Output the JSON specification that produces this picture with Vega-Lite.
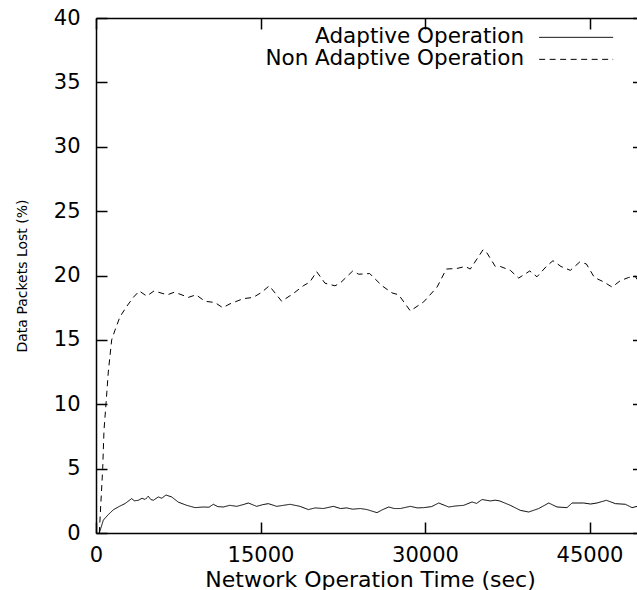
{
  "$schema": "https://vega.github.io/schema/vega-lite/v6.json",
  "width": 541,
  "height": 515,
  "autosize": {"type": "none"},
  "padding": {"left": 96, "top": 18, "right": 0, "bottom": 57},
  "background": "white",
  "config": {
    "view": {"stroke": null},
    "font": "DejaVu Sans",
    "axis": {
      "grid": false,
      "domainColor": "black",
      "domainWidth": 1.5,
      "tickColor": "black",
      "tickWidth": 1.5,
      "labelColor": "black",
      "titleColor": "black",
      "titleFontWeight": "normal",
      "labelFont": "DejaVu Sans",
      "titleFont": "DejaVu Sans"
    }
  },
  "datasets": {
    "loss": [
      {"series": "Adaptive Operation", "t": 300, "loss": 0},
      {"series": "Adaptive Operation", "t": 670, "loss": 1.0},
      {"series": "Adaptive Operation", "t": 1120, "loss": 1.43},
      {"series": "Adaptive Operation", "t": 1580, "loss": 1.8},
      {"series": "Adaptive Operation", "t": 2130, "loss": 2.07},
      {"series": "Adaptive Operation", "t": 2640, "loss": 2.28},
      {"series": "Adaptive Operation", "t": 3250, "loss": 2.67},
      {"series": "Adaptive Operation", "t": 3500, "loss": 2.5},
      {"series": "Adaptive Operation", "t": 3860, "loss": 2.54},
      {"series": "Adaptive Operation", "t": 4200, "loss": 2.7},
      {"series": "Adaptive Operation", "t": 4470, "loss": 2.6},
      {"series": "Adaptive Operation", "t": 4770, "loss": 2.85},
      {"series": "Adaptive Operation", "t": 5000, "loss": 2.6},
      {"series": "Adaptive Operation", "t": 5230, "loss": 2.54},
      {"series": "Adaptive Operation", "t": 5680, "loss": 2.8},
      {"series": "Adaptive Operation", "t": 6000, "loss": 2.7},
      {"series": "Adaptive Operation", "t": 6380, "loss": 2.95},
      {"series": "Adaptive Operation", "t": 6900, "loss": 2.8},
      {"series": "Adaptive Operation", "t": 7500, "loss": 2.4},
      {"series": "Adaptive Operation", "t": 8270, "loss": 2.15},
      {"series": "Adaptive Operation", "t": 9030, "loss": 1.97},
      {"series": "Adaptive Operation", "t": 9790, "loss": 2.02},
      {"series": "Adaptive Operation", "t": 10300, "loss": 2.0},
      {"series": "Adaptive Operation", "t": 10700, "loss": 2.23},
      {"series": "Adaptive Operation", "t": 11100, "loss": 2.05},
      {"series": "Adaptive Operation", "t": 11610, "loss": 2.02},
      {"series": "Adaptive Operation", "t": 12200, "loss": 2.15},
      {"series": "Adaptive Operation", "t": 12830, "loss": 2.07},
      {"series": "Adaptive Operation", "t": 13400, "loss": 2.2},
      {"series": "Adaptive Operation", "t": 13890, "loss": 2.33},
      {"series": "Adaptive Operation", "t": 14650, "loss": 2.07},
      {"series": "Adaptive Operation", "t": 15200, "loss": 2.2},
      {"series": "Adaptive Operation", "t": 15710, "loss": 2.28},
      {"series": "Adaptive Operation", "t": 16480, "loss": 2.07},
      {"series": "Adaptive Operation", "t": 17100, "loss": 2.15},
      {"series": "Adaptive Operation", "t": 17690, "loss": 2.23},
      {"series": "Adaptive Operation", "t": 18600, "loss": 2.07},
      {"series": "Adaptive Operation", "t": 19360, "loss": 1.82},
      {"series": "Adaptive Operation", "t": 20000, "loss": 1.95},
      {"series": "Adaptive Operation", "t": 20730, "loss": 1.9},
      {"series": "Adaptive Operation", "t": 21640, "loss": 2.07},
      {"series": "Adaptive Operation", "t": 22300, "loss": 1.9},
      {"series": "Adaptive Operation", "t": 22860, "loss": 1.95},
      {"series": "Adaptive Operation", "t": 23400, "loss": 1.85},
      {"series": "Adaptive Operation", "t": 24100, "loss": 1.9},
      {"series": "Adaptive Operation", "t": 24710, "loss": 1.82},
      {"series": "Adaptive Operation", "t": 25620, "loss": 1.58},
      {"series": "Adaptive Operation", "t": 26100, "loss": 1.8},
      {"series": "Adaptive Operation", "t": 26690, "loss": 2.02},
      {"series": "Adaptive Operation", "t": 27200, "loss": 1.9},
      {"series": "Adaptive Operation", "t": 27750, "loss": 1.9},
      {"series": "Adaptive Operation", "t": 28660, "loss": 2.07},
      {"series": "Adaptive Operation", "t": 29300, "loss": 1.95},
      {"series": "Adaptive Operation", "t": 29880, "loss": 1.97},
      {"series": "Adaptive Operation", "t": 30600, "loss": 2.05},
      {"series": "Adaptive Operation", "t": 31250, "loss": 2.33},
      {"series": "Adaptive Operation", "t": 32160, "loss": 2.02},
      {"series": "Adaptive Operation", "t": 32800, "loss": 2.1},
      {"series": "Adaptive Operation", "t": 33530, "loss": 2.15},
      {"series": "Adaptive Operation", "t": 34290, "loss": 2.41},
      {"series": "Adaptive Operation", "t": 34700, "loss": 2.3},
      {"series": "Adaptive Operation", "t": 35200, "loss": 2.6},
      {"series": "Adaptive Operation", "t": 35960, "loss": 2.49},
      {"series": "Adaptive Operation", "t": 36400, "loss": 2.55},
      {"series": "Adaptive Operation", "t": 36810, "loss": 2.49},
      {"series": "Adaptive Operation", "t": 37780, "loss": 2.15},
      {"series": "Adaptive Operation", "t": 38690, "loss": 1.76},
      {"series": "Adaptive Operation", "t": 39450, "loss": 1.63},
      {"series": "Adaptive Operation", "t": 40370, "loss": 1.9},
      {"series": "Adaptive Operation", "t": 41280, "loss": 2.33},
      {"series": "Adaptive Operation", "t": 42040, "loss": 2.02},
      {"series": "Adaptive Operation", "t": 42950, "loss": 1.97},
      {"series": "Adaptive Operation", "t": 43410, "loss": 2.33},
      {"series": "Adaptive Operation", "t": 44470, "loss": 2.33},
      {"series": "Adaptive Operation", "t": 45100, "loss": 2.25},
      {"series": "Adaptive Operation", "t": 45680, "loss": 2.33},
      {"series": "Adaptive Operation", "t": 46540, "loss": 2.54},
      {"series": "Adaptive Operation", "t": 47360, "loss": 2.28},
      {"series": "Adaptive Operation", "t": 48270, "loss": 2.23},
      {"series": "Adaptive Operation", "t": 48880, "loss": 1.97},
      {"series": "Adaptive Operation", "t": 49330, "loss": 2.07},
      {"series": "Non Adaptive Operation", "t": 300, "loss": 0},
      {"series": "Non Adaptive Operation", "t": 610, "loss": 5},
      {"series": "Non Adaptive Operation", "t": 730, "loss": 8},
      {"series": "Non Adaptive Operation", "t": 910, "loss": 10},
      {"series": "Non Adaptive Operation", "t": 1120, "loss": 12.5},
      {"series": "Non Adaptive Operation", "t": 1430, "loss": 15},
      {"series": "Non Adaptive Operation", "t": 1730, "loss": 15.75},
      {"series": "Non Adaptive Operation", "t": 2190, "loss": 16.8},
      {"series": "Non Adaptive Operation", "t": 2800, "loss": 17.6},
      {"series": "Non Adaptive Operation", "t": 3400, "loss": 18.3},
      {"series": "Non Adaptive Operation", "t": 3950, "loss": 18.8},
      {"series": "Non Adaptive Operation", "t": 4620, "loss": 18.4},
      {"series": "Non Adaptive Operation", "t": 5290, "loss": 18.8},
      {"series": "Non Adaptive Operation", "t": 6500, "loss": 18.5},
      {"series": "Non Adaptive Operation", "t": 7140, "loss": 18.7},
      {"series": "Non Adaptive Operation", "t": 7660, "loss": 18.55},
      {"series": "Non Adaptive Operation", "t": 8420, "loss": 18.3},
      {"series": "Non Adaptive Operation", "t": 9120, "loss": 18.5},
      {"series": "Non Adaptive Operation", "t": 9940, "loss": 18.0},
      {"series": "Non Adaptive Operation", "t": 10850, "loss": 17.9},
      {"series": "Non Adaptive Operation", "t": 11550, "loss": 17.5},
      {"series": "Non Adaptive Operation", "t": 12220, "loss": 17.8},
      {"series": "Non Adaptive Operation", "t": 13430, "loss": 18.2},
      {"series": "Non Adaptive Operation", "t": 14340, "loss": 18.3},
      {"series": "Non Adaptive Operation", "t": 15110, "loss": 18.7},
      {"series": "Non Adaptive Operation", "t": 15800, "loss": 19.2},
      {"series": "Non Adaptive Operation", "t": 16930, "loss": 18.0},
      {"series": "Non Adaptive Operation", "t": 17990, "loss": 18.6},
      {"series": "Non Adaptive Operation", "t": 18900, "loss": 19.2},
      {"series": "Non Adaptive Operation", "t": 19510, "loss": 19.5},
      {"series": "Non Adaptive Operation", "t": 20120, "loss": 20.3},
      {"series": "Non Adaptive Operation", "t": 20880, "loss": 19.4},
      {"series": "Non Adaptive Operation", "t": 21790, "loss": 19.2},
      {"series": "Non Adaptive Operation", "t": 22250, "loss": 19.4},
      {"series": "Non Adaptive Operation", "t": 22860, "loss": 19.9},
      {"series": "Non Adaptive Operation", "t": 23410, "loss": 20.35},
      {"series": "Non Adaptive Operation", "t": 23950, "loss": 20.1},
      {"series": "Non Adaptive Operation", "t": 24960, "loss": 20.15},
      {"series": "Non Adaptive Operation", "t": 26080, "loss": 19.2},
      {"series": "Non Adaptive Operation", "t": 26990, "loss": 18.65},
      {"series": "Non Adaptive Operation", "t": 27600, "loss": 18.5},
      {"series": "Non Adaptive Operation", "t": 28660, "loss": 17.25},
      {"series": "Non Adaptive Operation", "t": 29880, "loss": 17.95},
      {"series": "Non Adaptive Operation", "t": 31100, "loss": 19.1},
      {"series": "Non Adaptive Operation", "t": 31940, "loss": 20.5},
      {"series": "Non Adaptive Operation", "t": 32920, "loss": 20.55},
      {"series": "Non Adaptive Operation", "t": 33680, "loss": 20.7},
      {"series": "Non Adaptive Operation", "t": 34130, "loss": 20.5},
      {"series": "Non Adaptive Operation", "t": 35290, "loss": 22.0},
      {"series": "Non Adaptive Operation", "t": 35650, "loss": 21.75},
      {"series": "Non Adaptive Operation", "t": 36410, "loss": 20.7},
      {"series": "Non Adaptive Operation", "t": 36870, "loss": 20.7},
      {"series": "Non Adaptive Operation", "t": 37780, "loss": 20.4},
      {"series": "Non Adaptive Operation", "t": 38540, "loss": 19.8},
      {"series": "Non Adaptive Operation", "t": 39550, "loss": 20.35},
      {"series": "Non Adaptive Operation", "t": 40210, "loss": 19.9},
      {"series": "Non Adaptive Operation", "t": 41060, "loss": 20.7},
      {"series": "Non Adaptive Operation", "t": 41670, "loss": 21.15},
      {"series": "Non Adaptive Operation", "t": 42400, "loss": 20.7},
      {"series": "Non Adaptive Operation", "t": 43250, "loss": 20.4},
      {"series": "Non Adaptive Operation", "t": 44110, "loss": 21.05},
      {"series": "Non Adaptive Operation", "t": 44710, "loss": 20.9},
      {"series": "Non Adaptive Operation", "t": 45440, "loss": 19.85},
      {"series": "Non Adaptive Operation", "t": 46300, "loss": 19.5},
      {"series": "Non Adaptive Operation", "t": 47060, "loss": 19.1},
      {"series": "Non Adaptive Operation", "t": 47810, "loss": 19.6},
      {"series": "Non Adaptive Operation", "t": 48580, "loss": 19.85},
      {"series": "Non Adaptive Operation", "t": 49180, "loss": 19.95},
      {"series": "Non Adaptive Operation", "t": 49330, "loss": 19.7}
    ]
  },
  "data": {"name": "loss"},
  "layer": [
    {
      "mark": {"type": "line", "color": "black", "strokeWidth": 1, "clip": true},
      "encoding": {
        "x": {
          "field": "t",
          "type": "quantitative",
          "scale": {"domain": [0, 49330], "nice": false, "zero": false},
          "axis": {
            "orient": "bottom",
            "values": [0, 15000, 30000, 45000],
            "format": "d",
            "labelFontSize": 21,
            "tickSize": -11,
            "labelPadding": 22.7,
            "labelFlush": false,
            "title": "Network Operation Time (sec)",
            "titleFontSize": 22,
            "titleX": 274,
            "titleY": 53,
            "titleAlign": "center",
            "titleBaseline": "alphabetic"
          }
        },
        "y": {
          "field": "loss",
          "type": "quantitative",
          "scale": {"domain": [0, 40], "nice": false},
          "axis": {
            "orient": "left",
            "values": [0, 5, 10, 15, 20, 25, 30, 35, 40],
            "labelFontSize": 21,
            "tickSize": -11,
            "labelPadding": 27,
            "labelFlush": false,
            "title": "Data Packets Lost (%)",
            "titleFontSize": 14,
            "titleX": -74,
            "titleY": 257.5,
            "titleAngle": -90,
            "titleAlign": "center",
            "titleBaseline": "middle"
          }
        },
        "strokeDash": {
          "field": "series",
          "type": "nominal",
          "scale": {
            "domain": ["Adaptive Operation", "Non Adaptive Operation"],
            "range": [[1, 0], [6, 4.5]]
          },
          "legend": {
            "title": null,
            "orient": "none",
            "legendX": 469.4,
            "legendY": 8.6,
            "direction": "vertical",
            "symbolType": "M-3.7755,0H3.7755",
            "symbolSize": 384.16,
            "symbolStrokeWidth": 1,
            "symbolStrokeColor": "black",
            "symbolFillColor": "transparent",
            "symbolOpacity": 1,
            "labelAlign": "right",
            "labelOffset": -62.8,
            "labelFontSize": 21.5,
            "labelColor": "black",
            "labelLimit": 500,
            "rowPadding": -3.4,
            "padding": 0
          }
        }
      }
    },
    {
      "mark": {"type": "line", "opacity": 0},
      "encoding": {
        "x": {
          "field": "t",
          "type": "quantitative",
          "axis": {
            "orient": "top",
            "values": [0, 15000, 30000, 45000],
            "labels": false,
            "tickSize": -11,
            "title": null
          }
        },
        "y": {
          "field": "loss",
          "type": "quantitative",
          "axis": {
            "orient": "right",
            "values": [0, 5, 10, 15, 20, 25, 30, 35, 40],
            "labels": false,
            "domain": false,
            "tickSize": -4.5,
            "title": null
          }
        },
        "detail": {"field": "series", "type": "nominal"}
      }
    }
  ],
  "resolve": {"axis": {"x": "independent", "y": "independent"}}
}
